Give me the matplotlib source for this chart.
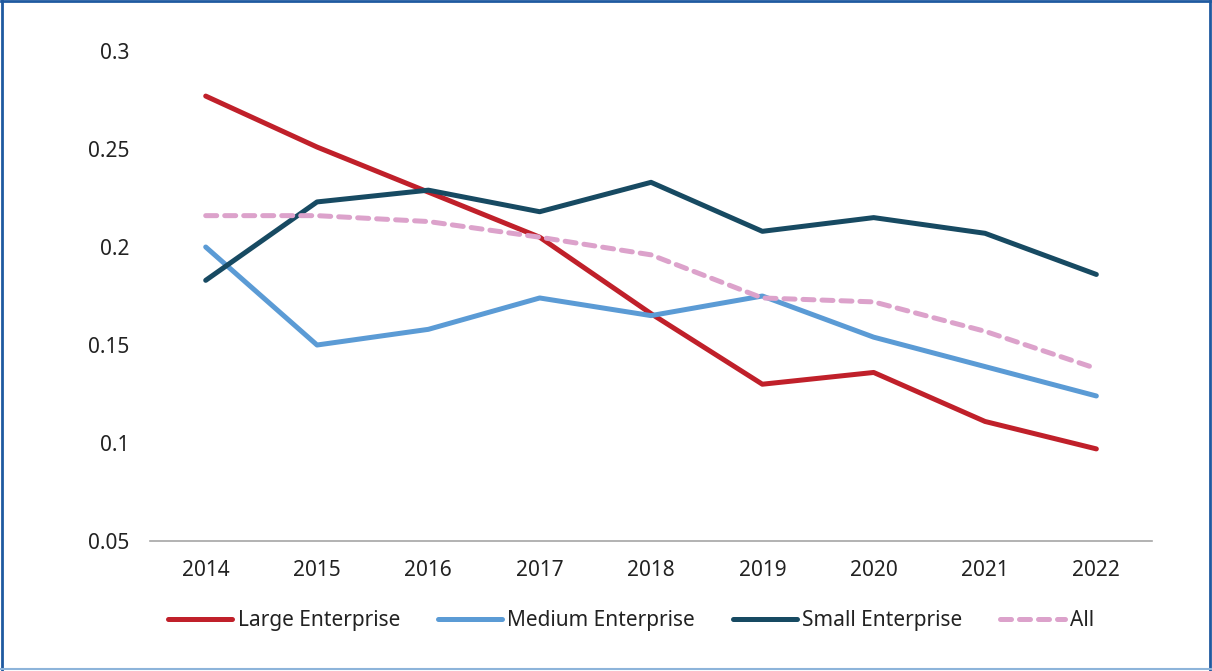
import matplotlib
matplotlib.use("Agg")
from matplotlib import pyplot as plt
from matplotlib.lines import Line2D

plt.rcParams['font.family'] = ['Noto Sans', 'DejaVu Sans']

# data per year
years = ["2014", "2015", "2016", "2017", "2018", "2019", "2020", "2021", "2022"]
large = [0.277, 0.251, 0.228, 0.205, 0.166, 0.130, 0.136, 0.111, 0.097]
medium = [0.200, 0.150, 0.158, 0.174, 0.165, 0.175, 0.154, 0.139, 0.124]
small = [0.183, 0.223, 0.229, 0.218, 0.233, 0.208, 0.215, 0.207, 0.186]
all_ent = [0.216, 0.216, 0.213, 0.205, 0.196, 0.174, 0.172, 0.157, 0.138]
y_ticks = [0.05, 0.1, 0.15, 0.2, 0.25, 0.3]
y_tick_labels = ["0.05", "0.1", "0.15", "0.2", "0.25", "0.3"]

fig = plt.figure(figsize=(12.12, 6.71), dpi=100)
ax = fig.add_axes([0.1238, 0.1937, 0.8267, 0.7303])

x = range(len(years))
lw = 3.6
ax.plot(x, large, color="#C0202A", linewidth=lw, solid_capstyle="round", label="Large Enterprise")
ax.plot(x, medium, color="#5B9BD5", linewidth=lw, solid_capstyle="round", label="Medium Enterprise")
ax.plot(x, small, color="#174A62", linewidth=lw, solid_capstyle="round", label="Small Enterprise")
ax.plot(x, all_ent, color="#DCA2CB", linewidth=lw, linestyle=(0, (2.2, 1.6)),
        dash_capstyle="round", label="All")

ax.set_xlim(-0.5, len(years) - 0.5)
ax.set_ylim(0.05, 0.3)
ax.set_xticks(list(x))
ax.set_xticklabels(years)
ax.set_yticks(y_ticks)
ax.set_yticklabels(y_tick_labels)
ax.tick_params(axis="both", length=0, labelsize=15, colors="#222222")
ax.tick_params(axis="y", pad=15)
ax.tick_params(axis="x", pad=14)

for side in ["top", "right", "left"]:
    ax.spines[side].set_visible(False)
ax.spines["bottom"].set_color("#A6A6A6")
ax.spines["bottom"].set_linewidth(1.2)

ax.legend(loc="center", bbox_to_anchor=(0.48, -0.162), ncol=4, frameon=False,
          fontsize=15, handlelength=3.1, handletextpad=0.25, columnspacing=1.8,
          labelcolor="#222222")

# border around the whole figure
fig.add_artist(Line2D([0.001, 0.999], [0.998, 0.998], color="#1F5AA0", linewidth=2, transform=fig.transFigure))
fig.add_artist(Line2D([0.0015, 0.0015], [0.002, 0.998], color="#1F5AA0", linewidth=2, transform=fig.transFigure))
fig.add_artist(Line2D([0.9985, 0.9985], [0.002, 0.998], color="#1F5AA0", linewidth=2, transform=fig.transFigure))
fig.add_artist(Line2D([0.001, 0.999], [0.003, 0.003], color="#8DB4DA", linewidth=1.5, transform=fig.transFigure))

fig.savefig("out.png", dpi=100)
